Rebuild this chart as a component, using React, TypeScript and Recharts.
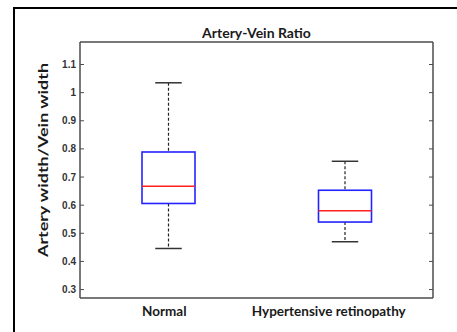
import { Bar, ComposedChart, XAxis, YAxis } from 'recharts';

// box plot stats
const groups = ['Normal', 'Hypertensive retinopathy'];
const lowWhisker = [0.446, 0.47];
const q1 = [0.606, 0.54];
const median = [0.667, 0.58];
const q3 = [0.789, 0.653];
const highWhisker = [1.035, 0.756];
const yTicks = [0.3, 0.4, 0.5, 0.6, 0.7, 0.8, 0.9, 1, 1.1];

const TITLE = 'Artery-Vein Ratio';
const Y_LABEL = 'Artery width/Vein width';

const data = groups.map((name, i) => ({
  name,
  range: [lowWhisker[i], highWhisker[i]],
  q1: q1[i],
  median: median[i],
  q3: q3[i],
}));

const AXIS_COLOR = '#4d4d4d';
const LABEL_FONT = 'Lato, "Open Sans", sans-serif';

// whole box + whiskers drawn from the range bar geometry
function BoxShape(props: any) {
  const { x, y, width, height, payload } = props;
  const [lo, hi] = payload.range;
  const toY = (v: number) => y + ((hi - v) / (hi - lo)) * height;
  const cx = x + width / 2;
  const cap = width / 2;
  const yQ3 = toY(payload.q3);
  const yQ1 = toY(payload.q1);
  const yMed = toY(payload.median);
  const yHi = y;
  const yLo = y + height;
  return (
    <g>
      <line x1={cx} x2={cx} y1={yHi} y2={yQ3} stroke="#222" strokeWidth={1.2} strokeDasharray="3 2" />
      <line x1={cx} x2={cx} y1={yQ1} y2={yLo} stroke="#222" strokeWidth={1.2} strokeDasharray="3 2" />
      <line x1={cx - cap / 2} x2={cx + cap / 2} y1={yHi} y2={yHi} stroke="#333" strokeWidth={1.5} />
      <line x1={cx - cap / 2} x2={cx + cap / 2} y1={yLo} y2={yLo} stroke="#333" strokeWidth={1.5} />
      <rect x={x} y={yQ3} width={width} height={yQ1 - yQ3} fill="none" stroke="#2323ff" strokeWidth={1.6} />
      <line x1={x} x2={x + width} y1={yMed} y2={yMed} stroke="#ff2020" strokeWidth={1.4} />
    </g>
  );
}

function LeftTick(props: any) {
  const { x, y, payload } = props;
  return (
    <g>
      <text
        x={x}
        y={y}
        dy={3.5}
        textAnchor="end"
        fontSize={10}
        fontWeight="bold"
        fontFamily='"Liberation Sans", Arial, sans-serif'
        fill="#333"
      >
        {payload.value}
      </text>
      <line x1={x + 4} x2={x + 8} y1={y} y2={y} stroke={AXIS_COLOR} strokeWidth={1} />
    </g>
  );
}

function RightTick(props: any) {
  const { x, y } = props;
  return <line x1={x} x2={x - 4} y1={y} y2={y} stroke={AXIS_COLOR} strokeWidth={1} />;
}

// the category labels in the figure sit a little left of their boxes
const labelShift = [-4, -16];

function CategoryTick(props: any) {
  const { x, y, payload, index } = props;
  return (
    <text
      x={x + (labelShift[index] ?? 0)}
      y={y}
      dy={12}
      textAnchor="middle"
      fontSize={13.5}
      fontWeight="bold"
      fontFamily={LABEL_FONT}
      fill="#1a1a1a"
    >
      {payload.value}
    </text>
  );
}

function NoTick() {
  return null;
}

export default function App() {
  return (
    <div
      style={{
        position: 'absolute',
        left: 0,
        top: 0,
        width: 457,
        height: 332,
        overflow: 'hidden',
        background: '#fff',
      }}
    >
      <div
        style={{
          position: 'absolute',
          left: 13,
          top: 7,
          width: 500,
          height: 400,
          border: '2px solid #000',
        }}
      />
      <div style={{ position: 'absolute', left: 0, top: 0 }}>
        <ComposedChart
          width={457}
          height={332}
          data={data}
          margin={{ top: 40, right: 22, bottom: 4, left: 40 }}
        >
          <XAxis
            dataKey="name"
            xAxisId="bottom"
            padding={{ left: 0, right: 0 }}
            height={30}
            tickLine={false}
            tickMargin={0}
            axisLine={{ stroke: AXIS_COLOR, strokeWidth: 1.5 }}
            tick={<CategoryTick />}
            interval={0}
          />
          <XAxis
            dataKey="name"
            xAxisId="top"
            orientation="top"
            height={2}
            tick={<NoTick />}
            tickLine={false}
            axisLine={{ stroke: AXIS_COLOR, strokeWidth: 1.5 }}
            label={{
              value: TITLE,
              position: 'top',
              offset: 2,
              fontSize: 14,
              fontWeight: 'bold',
              fontFamily: LABEL_FONT,
              fill: '#1a1a1a',
            }}
          />
          <YAxis
            yAxisId="left"
            width={40}
            domain={[0.27, 1.18]}
            ticks={yTicks}
            allowDataOverflow
            tickLine={false}
            tickSize={0}
            tickMargin={4}
            axisLine={{ stroke: AXIS_COLOR, strokeWidth: 1.5 }}
            tick={<LeftTick />}
            label={{
              content: (p: any) => {
                const vb = p.viewBox;
                const lx = vb.x + 8;
                const ly = vb.y + vb.height / 2 - 10;
                // the source figure is stretched vertically, so the rotated label runs long
                return (
                  <text
                    x={lx}
                    y={ly}
                    transform={`rotate(-90, ${lx}, ${ly})`}
                    textAnchor="middle"
                    fontSize={14}
                    fontWeight="bold"
                    fontFamily={LABEL_FONT}
                    fill="#1a1a1a"
                    textLength={194}
                    lengthAdjust="spacingAndGlyphs"
                  >
                    {Y_LABEL}
                  </text>
                );
              },
            }}
          />
          <YAxis
            yAxisId="right"
            orientation="right"
            width={2}
            domain={[0.27, 1.18]}
            ticks={yTicks}
            allowDataOverflow
            tickLine={false}
            tickSize={0}
            tickMargin={0}
            axisLine={{ stroke: AXIS_COLOR, strokeWidth: 1.5 }}
            tick={<RightTick />}
          />
          <Bar
            dataKey="range"
            xAxisId="bottom"
            yAxisId="left"
            barSize={53}
            shape={<BoxShape />}
            isAnimationActive={false}
          />
        </ComposedChart>
      </div>
    </div>
  );
}
